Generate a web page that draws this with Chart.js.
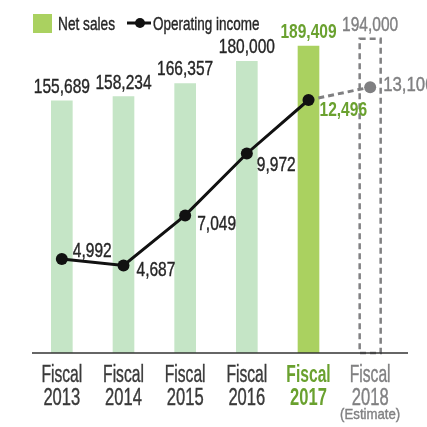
<!DOCTYPE html>
<html>
<head>
<meta charset="utf-8">
<script src="https://cdn.jsdelivr.net/npm/chart.js@4"></script>
<style>
  html, body { margin: 0; padding: 0; background: #fff; }
  #wrap { width: 427px; height: 427px; }
</style>
</head>
<body>
<div id="wrap"><canvas id="sales-chart" width="427" height="427"></canvas></div>
<script>
// values
const years = ['2013', '2014', '2015', '2016', '2017', '2018'];
const netSales = [155689, 158234, 166357, 180000, 189409, 194000];
const operatingIncome = [4992, 4687, 7049, 9972, 12496, 13100];

const FONT = "'Liberation Sans', Arial, sans-serif";
const GREEN = '#aad160';
const LIGHT = '#c5e5c6';
const LABEL_GREEN = '#6aa12f';
const GRAY = '#808082';
const DARK = '#262626';

// where each income label sits relative to its point
const incomeLabelOffsets = [
  [11, -2], [13, 11], [12, 15], [10, 18], [11, 16], [13, 4]
];

// the original uses a condensed face, so squeeze a regular one
function drawText(ctx, text, x, y, size, color, opts = {}) {
  const sx = opts.sx || 0.74;
  ctx.save();
  ctx.font = (opts.bold ? 'bold ' : '') + size + 'px ' + FONT;
  ctx.fillStyle = color;
  ctx.strokeStyle = color;
  ctx.lineWidth = 0.4;
  ctx.textAlign = opts.align || 'left';
  ctx.textBaseline = 'alphabetic';
  ctx.translate(x, y);
  ctx.scale(sx, 1);
  ctx.fillText(text, 0, 0);
  if (!opts.bold) ctx.strokeText(text, 0, 0);
  ctx.restore();
}

function colorFor(i) {
  return i === 4 ? LABEL_GREEN : i === 5 ? GRAY : DARK;
}

const overlay = {
  id: 'overlay',
  afterDatasetsDraw(chart) {
    const ctx = chart.ctx;
    const area = chart.chartArea;
    const xScale = chart.scales.x;
    const bars = chart.getDatasetMeta(0).data;
    const points = chart.getDatasetMeta(1).data;
    ctx.save();

    // dashed box for the estimate
    const est = bars[5];
    ctx.setLineDash([6, 4]);
    ctx.lineWidth = 2.5;
    ctx.strokeStyle = GRAY;
    ctx.strokeRect(est.x - est.width / 2, est.y, est.width, est.base - est.y);
    ctx.setLineDash([]);

    // baseline
    ctx.strokeStyle = '#333';
    ctx.lineWidth = 1.5;
    ctx.beginPath();
    ctx.moveTo(area.left + 1, area.bottom);
    ctx.lineTo(408, area.bottom);
    ctx.stroke();
    ctx.restore();

    // net sales labels
    bars.forEach((bar, i) => {
      drawText(ctx, netSales[i].toLocaleString('en-US'), bar.x, bar.y - 8, 21, colorFor(i),
        { align: 'center', bold: i === 4 });
    });

    // operating income labels
    points.forEach((pt, i) => {
      const [dx, dy] = incomeLabelOffsets[i];
      drawText(ctx, operatingIncome[i].toLocaleString('en-US'), pt.x + dx, pt.y + dy, 21, colorFor(i),
        { bold: i === 4, sx: i === 5 ? 0.8 : 0.74 });
    });

    // category labels under the axis
    years.forEach((y, i) => {
      const x = xScale.getPixelForTick(i);
      const c = i === 4 ? LABEL_GREEN : i === 5 ? GRAY : '#3a3a3a';
      drawText(ctx, 'Fiscal', x, area.bottom + 29, 23, c, { align: 'center', bold: i === 4, sx: 0.68 });
      drawText(ctx, y, x, area.bottom + 52, 23, c, { align: 'center', bold: i === 4, sx: 0.72 });
    });
    drawText(ctx, '(Estimate)', xScale.getPixelForTick(5), area.bottom + 66, 15, GRAY,
      { align: 'center', sx: 0.88 });

    // legend
    ctx.save();
    ctx.fillStyle = GREEN;
    ctx.fillRect(33, 14, 19, 19);
    ctx.strokeStyle = '#111';
    ctx.lineWidth = 3;
    ctx.beginPath();
    ctx.moveTo(127, 23);
    ctx.lineTo(151, 23);
    ctx.stroke();
    ctx.fillStyle = '#111';
    ctx.beginPath();
    ctx.arc(140, 23, 5, 0, Math.PI * 2);
    ctx.fill();
    ctx.restore();
    drawText(ctx, 'Net sales', 58, 30, 19, DARK, { sx: 0.72 });
    drawText(ctx, 'Operating income', 153, 30, 19, DARK, { sx: 0.71 });
  }
};

new Chart(document.getElementById('sales-chart').getContext('2d'), {
  data: {
    labels: years,
    datasets: [{
      type: 'bar',
      label: 'Net sales',
      data: netSales,
      yAxisID: 'y',
      order: 1,
      backgroundColor: netSales.map((v, i) => i === 4 ? GREEN : i === 5 ? 'rgba(0,0,0,0)' : LIGHT),
      borderWidth: 0,
      barThickness: 21,
    }, {
      type: 'line',
      label: 'Operating income',
      data: operatingIncome,
      yAxisID: 'y2',
      order: 0,
      borderColor: '#111',
      borderWidth: 3,
      pointRadius: 6,
      pointHoverRadius: 6,
      pointBorderWidth: 0,
      pointBackgroundColor: operatingIncome.map((v, i) => i === 5 ? GRAY : '#111'),
      segment: {
        borderColor: c => c.p1DataIndex === 5 ? GRAY : '#111',
        borderDash: c => c.p1DataIndex === 5 ? [6, 4] : undefined,
      },
      clip: false,
    }]
  },
  options: {
    responsive: false,
    animation: false,
    layout: { padding: { left: 31, right: 26, top: 10, bottom: 74 } },
    plugins: { legend: { display: false }, tooltip: { enabled: false } },
    scales: {
      x: {
        grid: { display: false, drawTicks: false },
        border: { display: false },
        ticks: { display: false, autoSkip: false }
      },
      y: { display: false, min: 0, max: 211700 },
      y2: { display: false, min: 556, max: 16743 }
    }
  },
  plugins: [overlay]
});
</script>
</body>
</html>
